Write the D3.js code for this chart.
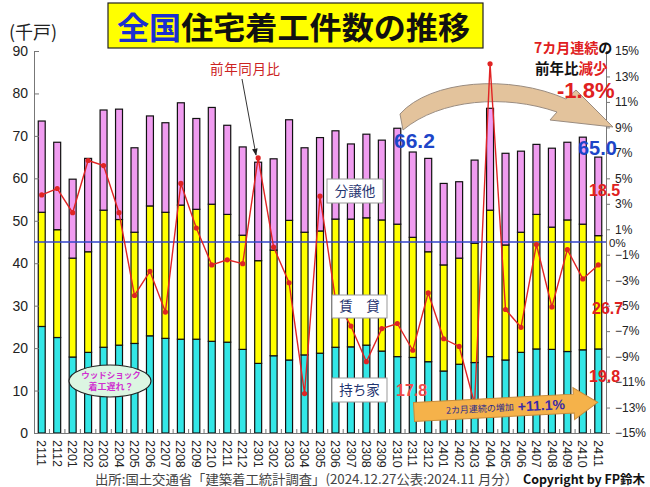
<!DOCTYPE html>
<html><head><meta charset="utf-8">
<script src="https://cdn.jsdelivr.net/npm/d3@7"></script>
<style>
body{margin:0;background:#fff;}
text{font-family:"Liberation Sans",Arial,sans-serif;}
.jp{font-family:"Noto Sans CJK JP","Noto Sans",sans-serif;}
</style></head>
<body>
<script>
const months = ["2111","2112","2201","2202","2203","2204","2205","2206","2207","2208","2209","2210","2211","2212",
"2301","2302","2303","2304","2305","2306","2307","2308","2309","2310","2311","2312",
"2401","2402","2403","2404","2405","2406","2407","2408","2409","2410","2411"];
// 持ち家 (owner-occupied), 貸家 (rental), 分譲他 (for sale etc.) — thousand units
const owned  = [25.1,22.5,17.9,19.0,20.2,20.7,21.1,22.9,22.3,22.1,22.1,21.6,21.4,19.7,
16.4,18.2,17.2,18.4,18.8,20.2,20.3,20.7,19.3,18.0,17.8,16.8,
14.6,16.2,16.6,18.0,17.2,19.0,19.8,19.7,19.2,19.6,19.8];
const rental = [26.9,25.4,23.3,23.7,32.3,29.6,26.2,30.6,29.7,31.6,30.6,32.3,30.1,26.9,
24.2,24.9,32.9,28.9,28.8,30.2,30.1,30.0,30.9,31.2,28.3,25.9,
25.0,25.0,28.1,34.5,27.1,28.3,31.7,28.8,31.0,29.6,26.7];
const forSale= [21.5,20.6,18.6,22.0,23.6,26.0,19.9,21.2,21.1,24.1,21.4,22.8,21.0,20.8,
23.2,21.5,23.7,19.9,22.0,20.8,17.7,19.7,18.8,22.6,20.1,22.0,
19.2,18.0,19.6,24.0,21.6,19.1,16.5,18.6,18.3,20.5,18.5];
// 前年同月比 (%)
const yoy = [3.7,4.2,2.3,6.4,6.0,2.3,-4.2,-2.3,-5.5,4.6,1.1,-1.8,-1.4,-1.7,
6.6,-0.4,-3.2,-11.9,3.6,-4.5,-6.6,-9.4,-6.8,-6.4,-8.5,-4.0,
-7.6,-8.2,-12.7,14.0,-5.3,-6.7,-0.2,-5.1,-0.6,-2.9,-1.8];
const leftTicks = [0,10,20,30,40,50,60,70,80,90];
const rightTicks = [-15,-13,-11,-9,-7,-5,-3,-1,1,3,5,7,9,11,13,15];

const W=650,H=487;
const svg=d3.select("body").append("svg").attr("width",W).attr("height",H);
svg.append("rect").attr("width",W).attr("height",H).attr("fill","#fff");

const x=d3.scaleBand().domain(months).range([34,606]).paddingInner(0.55).paddingOuter(0.275);
const yL=d3.scaleLinear().domain([0,90]).range([433,51]);
const yR=d3.scaleLinear().domain([-15,15]).range([433,51]);
const bw=x.bandwidth(), step=x.step();

const table=months.map((m,i)=>({m,owned:owned[i],rental:rental[i],sale:forSale[i]}));
const series=d3.stack().keys(["owned","rental","sale"])(table);
const colors={owned:"#33e6e6",rental:"#ffff00",sale:"#f09cf0"};

// bars
svg.append("g").selectAll("g").data(series).join("g")
  .attr("fill",d=>colors[d.key])
  .selectAll("rect").data(d=>d).join("rect")
  .attr("x",d=>x(d.data.m)).attr("y",d=>yL(d[1]))
  .attr("width",bw).attr("height",d=>yL(d[0])-yL(d[1]))
  .attr("stroke","#111").attr("stroke-width",1.2);

// axes
const ga=svg.append("g").attr("transform","translate(34,0)")
  .call(d3.axisLeft(yL).tickValues(leftTicks).tickSizeInner(-5).tickSizeOuter(0).tickPadding(6));
ga.selectAll("text").attr("font-size",14).attr("fill","#222").style("font-family","Liberation Sans, Arial");
ga.selectAll("line,path").attr("stroke","#777");

const gr=svg.append("g").attr("transform","translate(606,0)")
  .call(d3.axisRight(yR).tickValues(rightTicks).tickSizeInner(4).tickSizeOuter(0).tickPadding(5)
    .tickFormat(d=>d3.format("d")(d)+"%"));
gr.selectAll("text").attr("font-size",12).attr("fill","#222").style("font-family","Liberation Sans, Arial");
gr.selectAll("line,path").attr("stroke","#777");
svg.append("text").attr("x",609).attr("y",yR(0)+1).attr("dy","0.35em").attr("font-size",11.5).attr("fill","#222").text("0%");

const gb=svg.append("g").attr("transform","translate(0,433)")
  .call(d3.axisBottom(x).tickSize(0).tickSizeOuter(0));
gb.select("path").attr("stroke","#777");
gb.selectAll("text").attr("transform","rotate(90)").attr("x",7).attr("y",0).attr("dy","0.35em")
  .style("text-anchor","start").attr("font-size",12.5).attr("fill","#222").style("font-family","Liberation Sans, Arial");
svg.append("g").selectAll("line").data(months.slice(1)).join("line")
  .attr("x1",d=>x(d)-(step-bw)/2).attr("x2",d=>x(d)-(step-bw)/2)
  .attr("y1",433).attr("y2",429).attr("stroke","#777");

// curved tan arrow
svg.append("path")
  .attr("d","M400,114 C430,80 510,74 566,99 L576,90 L613,127 L550,120 L557,112 C505,94 440,99 403,130 Z")
  .attr("fill","#e3c39c").attr("stroke","#9a8c80").attr("stroke-width",1);

// zero line
svg.append("line").attr("x1",34).attr("x2",606).attr("y1",yR(0)).attr("y2",yR(0))
  .attr("stroke","#3344cc").attr("stroke-width",1.5);

// yoy line
const line=d3.line().x((d,i)=>x(months[i])+bw/2).y(d=>yR(d));
svg.append("path").datum(yoy).attr("d",line).attr("fill","none").attr("stroke","#e02424").attr("stroke-width",1.4);
svg.append("g").selectAll("circle").data(yoy).join("circle")
  .attr("cx",(d,i)=>x(months[i])+bw/2).attr("cy",d=>yR(d)).attr("r",2.6).attr("fill","#e02424");

// title
svg.append("rect").attr("x",108).attr("y",3).attr("width",375).attr("height",45)
  .attr("fill","#ffff00").attr("stroke","#222").attr("stroke-width",1.2);
const t=svg.append("text").attr("class","jp").attr("x",117).attr("y",39).attr("font-size",31)
  .attr("font-weight","bold").attr("textLength",353).attr("lengthAdjust","spacingAndGlyphs");
t.append("tspan").attr("fill","#1a2fd0").text("全国");
t.append("tspan").attr("fill","#111").text("住宅着工件数の推移");

svg.append("text").attr("class","jp").attr("x",9).attr("y",39).attr("font-size",18).attr("fill","#222").text("(千戸)");

// annotations
svg.append("text").attr("class","jp").attr("x",210).attr("y",74).attr("font-size",13.5).attr("fill","#cc2222")
  .attr("textLength",70).text("前年同月比");
svg.append("defs").append("marker").attr("id","ah").attr("viewBox","0 0 10 10").attr("refX",9).attr("refY",5)
  .attr("markerWidth",7).attr("markerHeight",7).attr("orient","auto")
  .append("path").attr("d","M0,1 L10,5 L0,9 Z").attr("fill","#222");
svg.append("line").attr("x1",242).attr("y1",79).attr("x2",256).attr("y2",155)
  .attr("stroke","#333").attr("stroke-width",1).attr("marker-end","url(#ah)");

const a1=svg.append("text").attr("class","jp").attr("x",534).attr("y",53).attr("font-size",14).attr("font-weight","bold");
a1.append("tspan").attr("fill","#e02020").text("7カ月連続");
a1.append("tspan").attr("fill","#111").text("の");
const a2=svg.append("text").attr("class","jp").attr("x",535).attr("y",74).attr("font-size",14.5).attr("font-weight","bold");
a2.append("tspan").attr("fill","#111").text("前年比");
a2.append("tspan").attr("fill","#e02020").text("減少");
svg.append("text").attr("x",557).attr("y",98).attr("font-size",22).attr("font-weight","bold").attr("fill","#e02020").text("-1.8%");

svg.append("text").attr("x",394).attr("y",148).attr("font-size",21).attr("font-weight","bold").attr("fill","#1d45c8").text("66.2");
svg.append("text").attr("x",578).attr("y",155).attr("font-size",20).attr("font-weight","bold").attr("fill","#1d45c8").text("65.0");
svg.append("text").attr("x",589).attr("y",196).attr("font-size",16).attr("font-weight","bold").attr("fill","#e02020").text("18.5");
svg.append("text").attr("x",592).attr("y",314).attr("font-size",16).attr("font-weight","bold").attr("fill","#e02020").text("26.7");
svg.append("text").attr("x",589).attr("y",382).attr("font-size",16).attr("font-weight","bold").attr("fill","#e02020").text("19.8");
svg.append("text").attr("x",396).attr("y",396).attr("font-size",16).attr("font-weight","bold").attr("fill","#f04a4a").text("17.8");

// category boxes
function box(x0,y0,w,h,label){
  svg.append("rect").attr("x",x0).attr("y",y0).attr("width",w).attr("height",h)
    .attr("fill","#fff").attr("stroke","#999").attr("stroke-width",1);
  svg.append("text").attr("class","jp").attr("x",x0+w/2).attr("y",y0+h/2).attr("dy","0.36em")
    .attr("text-anchor","middle").attr("font-size",13.5).attr("fill","#1f3470").text(label);
}
box(327,179,56,24,"分譲他");
box(332,295,55,23,"賃　貸");
box(332,378,55,24,"持ち家");

// ellipse
svg.append("ellipse").attr("cx",110).attr("cy",381).attr("rx",41).attr("ry",16)
  .attr("fill","#dcf6e2").attr("stroke","#222").attr("stroke-width",1.2);
svg.append("text").attr("class","jp").attr("x",111).attr("y",378).attr("text-anchor","middle")
  .attr("font-size",8.5).attr("fill","#d030d0").attr("font-weight","bold").text("ウッドショック");
svg.append("text").attr("class","jp").attr("x",111).attr("y",390).attr("text-anchor","middle")
  .attr("font-size",9).attr("fill","#d030d0").attr("font-weight","bold").text("着工遅れ？");

// orange arrow
const oa=svg.append("g").attr("transform","translate(414,412) rotate(-3)");
oa.append("path").attr("d","M0,-9.5 L160,-9.5 L160,-16 L184,0 L160,16 L160,9.5 L0,9.5 Z")
  .attr("fill","#f5b24a").attr("stroke","#c58a3a").attr("stroke-width",1);
oa.append("text").attr("class","jp").attr("x",32).attr("y",3.5).attr("font-size",9).attr("fill","#2a2a8a").text("2カ月連続の増加");
oa.append("text").attr("x",104).attr("y",5).attr("font-size",14).attr("font-weight","bold").attr("fill","#3a2aa8").text("+11.1%");

// source
svg.append("text").attr("class","jp").attr("x",95).attr("y",484).attr("font-size",13).attr("fill","#444")
  .attr("textLength",423).attr("lengthAdjust","spacingAndGlyphs")
  .text("出所:国土交通省「建築着工統計調査」(2024.12.27公表:2024.11 月分）");
svg.append("text").attr("class","jp").attr("x",523).attr("y",484).attr("font-size",12.5).attr("font-weight","bold").attr("fill","#111")
  .attr("textLength",122).attr("lengthAdjust","spacingAndGlyphs").text("Copyright by FP鈴木");
</script>
</body></html>
